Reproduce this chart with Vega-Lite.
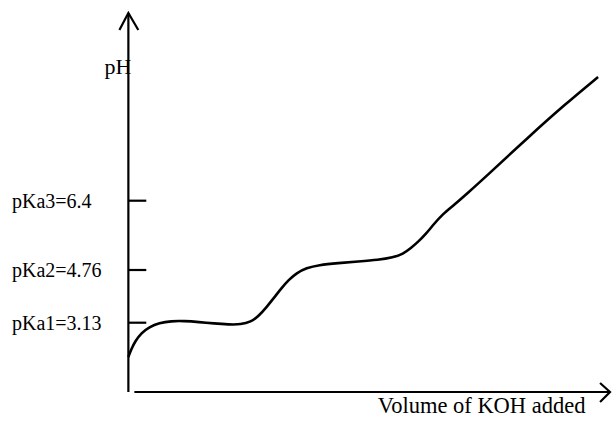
{
  "$schema": "https://vega.github.io/schema/vega-lite/v6.json",
  "autosize": {"type": "fit", "contains": "padding"},
  "width": 615,
  "height": 421,
  "padding": 0,
  "background": "white",
  "view": {"stroke": null},
  "datasets": {
    "curve": [
      {"vol": 0, "ph": 3.5}, {"vol": 0.3, "ph": 4.3}, {"vol": 0.7, "ph": 5.1}, {"vol": 1.3, "ph": 5.9},
      {"vol": 2.1, "ph": 6.5}, {"vol": 3.1, "ph": 6.9}, {"vol": 4.3, "ph": 7.1}, {"vol": 5.6, "ph": 7.1},
      {"vol": 7.1, "ph": 7.0}, {"vol": 8.6, "ph": 6.85}, {"vol": 10.1, "ph": 6.75}, {"vol": 11.3, "ph": 6.75},
      {"vol": 12.3, "ph": 7.0}, {"vol": 13.1, "ph": 7.6}, {"vol": 13.9, "ph": 8.5}, {"vol": 14.7, "ph": 9.5},
      {"vol": 15.4, "ph": 10.4}, {"vol": 16.1, "ph": 11.2}, {"vol": 16.9, "ph": 11.9}, {"vol": 17.9, "ph": 12.4},
      {"vol": 19.1, "ph": 12.7}, {"vol": 21.1, "ph": 12.9}, {"vol": 23.1, "ph": 13.05}, {"vol": 25.1, "ph": 13.2},
      {"vol": 26.6, "ph": 13.45}, {"vol": 27.6, "ph": 13.8}, {"vol": 28.4, "ph": 14.4}, {"vol": 29.1, "ph": 15.0},
      {"vol": 29.9, "ph": 15.8}, {"vol": 30.7, "ph": 16.8}, {"vol": 31.6, "ph": 17.8}, {"vol": 32.6, "ph": 18.6},
      {"vol": 34.1, "ph": 19.9}, {"vol": 36.1, "ph": 21.7}, {"vol": 40.1, "ph": 25.4}, {"vol": 43.8, "ph": 28.7},
      {"vol": 47.2, "ph": 31.5}
    ],
    "frame": [
      {"part": "yaxis", "i": 0, "vol": 0, "ph": 0},
      {"part": "yaxis", "i": 1, "vol": 0, "ph": 37.9},
      {"part": "xaxis", "i": 0, "vol": 0.6, "ph": 0},
      {"part": "xaxis", "i": 1, "vol": 48.4, "ph": 0},
      {"part": "yarrow", "i": 0, "vol": -0.9, "ph": 36.2},
      {"part": "yarrow", "i": 1, "vol": 0, "ph": 37.9},
      {"part": "yarrow", "i": 2, "vol": 1.0, "ph": 36.2},
      {"part": "xarrow", "i": 0, "vol": 47.4, "ph": 0.9},
      {"part": "xarrow", "i": 1, "vol": 48.4, "ph": 0},
      {"part": "xarrow", "i": 2, "vol": 47.4, "ph": -1.0},
      {"part": "t1", "i": 0, "vol": 0, "ph": 6.93},
      {"part": "t1", "i": 1, "vol": 1.8, "ph": 6.93},
      {"part": "t2", "i": 0, "vol": 0, "ph": 12.2},
      {"part": "t2", "i": 1, "vol": 1.8, "ph": 12.2},
      {"part": "t3", "i": 0, "vol": 0, "ph": 19.13},
      {"part": "t3", "i": 1, "vol": 1.8, "ph": 19.13}
    ],
    "ticklabels": [
      {"label": "pKa1=3.13", "vol": -11.7, "ph": 6.93},
      {"label": "pKa2=4.76", "vol": -11.7, "ph": 12.2},
      {"label": "pKa3=6.4", "vol": -11.7, "ph": 19.13}
    ]
  },
  "encoding": {
    "x": {"field": "vol", "type": "quantitative", "scale": {"domain": [-12.9, 48.6], "nice": false, "zero": false}, "axis": null},
    "y": {"field": "ph", "type": "quantitative", "scale": {"domain": [-2.9, 39.2], "nice": false, "zero": false}, "axis": null}
  },
  "layer": [
    {
      "data": {"name": "frame"},
      "mark": {"type": "line", "color": "black", "strokeWidth": 2.2, "strokeCap": "butt"},
      "encoding": {"detail": {"field": "part"}, "order": {"field": "i", "type": "quantitative"}}
    },
    {
      "data": {"name": "curve"},
      "mark": {"type": "line", "color": "black", "strokeWidth": 2.6, "interpolate": "basis"},
      "encoding": {}
    },
    {
      "data": {"name": "ticklabels"},
      "mark": {"type": "text", "align": "left", "baseline": "middle", "dy": 1, "font": "Liberation Serif", "fontSize": 20, "color": "black"},
      "encoding": {"text": {"field": "label"}}
    },
    {
      "data": {"values": [{"label": "pH", "vol": -2.4, "ph": 31.8}]},
      "mark": {"type": "text", "align": "left", "baseline": "alphabetic", "font": "Liberation Serif", "fontSize": 22, "color": "black"},
      "encoding": {"text": {"field": "label"}}
    },
    {
      "data": {"values": [{"label": "Volume of KOH added", "vol": 35.5, "ph": -2.1}]},
      "mark": {"type": "text", "align": "center", "baseline": "alphabetic", "font": "Liberation Serif", "fontSize": 22.5, "color": "black"},
      "encoding": {"text": {"field": "label"}}
    }
  ]
}
